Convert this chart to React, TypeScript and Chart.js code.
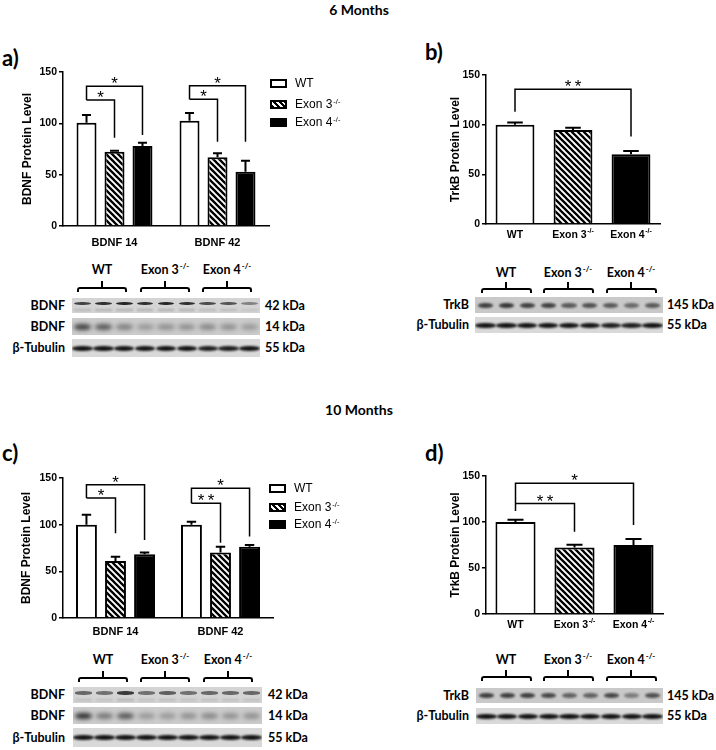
import React, { useEffect, useRef } from 'react';
import { Chart, registerables } from 'chart.js';
Chart.register(...registerables);

// ---------------- data ----------------
const bdnfCategories = ['BDNF 14', 'BDNF 42'];
const trkbCategories = ['WT', 'Exon 3', 'Exon 4'];
const trkbSup = ['', '-/-', '-/-'];
const legendNames = ['WT', 'Exon 3', 'Exon 4'];
const legendSup = ['', '-/-', '-/-'];
const yTickValues = [0, 50, 100, 150];

// 6 months, BDNF (panel a)
const a6WT = [100.5, 102.5];
const a6WTErr = [7.5, 7.5];
const a6Ex3 = [72.3, 66.9];
const a6Ex3Err = [1.0, 3.9];
const a6Ex4 = [77.9, 52.9];
const a6Ex4Err = [3.1, 10.7];

// 6 months, TrkB (panel b)
const b6Values = [100, 94.6, 70.1];
const b6Err = [2.2, 2.3, 3.4];

// 10 months, BDNF (panel c)
const c10WT = [100, 100];
const c10WTErr = [10.5, 3.0];
const c10Ex3 = [61, 70.3];
const c10Ex3Err = [4.7, 6.1];
const c10Ex4 = [68.2, 76.4];
const c10Ex4Err = [2.1, 1.8];

// 10 months, TrkB (panel d)
const d10Values = [100, 72.3, 74.9];
const d10Err = [2.5, 3.0, 6.5];

// significance brackets: [dataset, index] from -> to, level / start / end values, label
type Br = { from: [number, number]; to: [number, number]; level: number; start: number; end: number; label: string };
const a6Brackets: Br[] = [
  { from: [0, 0], to: [1, 0], level: 122.7, start: 122.7, end: 86, label: '*' },
  { from: [0, 0], to: [2, 0], level: 136, start: 122.7, end: 88.6, label: '*' },
  { from: [0, 1], to: [1, 1], level: 123.4, start: 123.4, end: 82, label: '*' },
  { from: [0, 1], to: [2, 1], level: 136.6, start: 123.4, end: 82, label: '*' },
];
const b6Brackets: Br[] = [
  { from: [0, 0], to: [0, 2], level: 135.6, start: 113, end: 88, label: '* *' },
];
const c10Brackets: Br[] = [
  { from: [0, 0], to: [1, 0], level: 128.5, start: 128.5, end: 90.8, label: '*' },
  { from: [0, 0], to: [2, 0], level: 142.8, start: 128.5, end: 83.6, label: '*' },
  { from: [0, 1], to: [1, 1], level: 123, start: 123, end: 80.7, label: '* *' },
  { from: [0, 1], to: [2, 1], level: 139, start: 123, end: 87.2, label: '*' },
];
const d10Brackets: Br[] = [
  { from: [0, 0], to: [0, 1], level: 120, start: 120, end: 89.5, label: '* *' },
  { from: [0, 0], to: [0, 2], level: 142, start: 112, end: 96.8, label: '*' },
];

// blot lane intensities (picture only)
const a42Lanes = [0.8, 0.9, 0.95, 0.9, 0.95, 0.9, 0.75, 0.7, 0.45];
const a14Lanes = [0.85, 0.7, 0.45, 0.3, 0.35, 0.35, 0.4, 0.35, 0.3];
const aTubLanes = [0.95, 0.95, 0.95, 0.95, 0.95, 0.95, 0.9, 0.9, 0.95];
const bTrkLanes = [0.8, 0.85, 0.8, 0.8, 0.65, 0.7, 0.65, 0.55, 0.65];
const bTubLanes = [0.95, 0.95, 0.95, 0.95, 0.95, 0.95, 0.9, 0.9, 0.95];
const c42Lanes = [0.6, 0.55, 0.85, 0.55, 0.65, 0.55, 0.6, 0.6, 0.6];
const c14Lanes = [0.95, 0.5, 0.7, 0.3, 0.3, 0.35, 0.4, 0.35, 0.35];
const cTubLanes = [0.95, 0.95, 0.95, 0.95, 0.95, 0.95, 0.95, 0.95, 0.95];
const dTrkLanes = [0.8, 0.8, 0.8, 0.75, 0.6, 0.6, 0.75, 0.45, 0.7];
const dTubLanes = [0.95, 0.95, 0.95, 0.95, 0.95, 0.95, 0.95, 0.95, 0.95];

// ---------------- chart helpers ----------------
const FONT = "'Liberation Sans', Arial, Helvetica, sans-serif";
const LABEL_FONT = "Lato, 'Open Sans', sans-serif";

function hatchPattern(): CanvasPattern | string {
  const s = 6;
  const c = document.createElement('canvas');
  c.width = s;
  c.height = s;
  const g = c.getContext('2d');
  if (!g) return '#888';
  g.fillStyle = '#fff';
  g.fillRect(0, 0, s, s);
  g.strokeStyle = '#000';
  g.lineWidth = 2.3;
  g.beginPath();
  g.moveTo(-1, -1);
  g.lineTo(s + 1, s + 1);
  g.moveTo(-1, s - 1);
  g.lineTo(1, s + 1);
  g.moveTo(s - 1, -1);
  g.lineTo(s + 1, 1);
  g.stroke();
  return g.createPattern(c, 'repeat') || '#888';
}

type Spec = {
  labels: string[];
  sup: string[];
  grouped: boolean;
  values: number[][];
  errs: number[][];
  brackets: Br[];
  yTitle: string;
  w: number;
  h: number;
  yW: number;
  plotTop: number;
  plotRight: number;
  plotBottom: number;
  titlePad: number;
  catPct: number;
  barPct: number;
  xLabelOffset: number;
  xLabelSize: number;
  capFrac: number;
};

function buildChart(canvas: HTMLCanvasElement, spec: Spec) {
  const hatch = hatchPattern();
  const fills: any[] = ['#ffffff', hatch, '#000000'];
  let datasets: any[];
  if (spec.grouped) {
    datasets = spec.values.map((v, i) => ({
      label: legendNames[i],
      data: v,
      backgroundColor: fills[i],
      borderColor: '#000',
      borderWidth: 2,
      borderSkipped: 'bottom',
      categoryPercentage: spec.catPct,
      barPercentage: spec.barPct,
    }));
  } else {
    datasets = [
      {
        label: 'TrkB',
        data: spec.values[0],
        backgroundColor: fills,
        borderColor: '#000',
        borderWidth: 2,
        borderSkipped: 'bottom',
        categoryPercentage: spec.catPct,
        barPercentage: spec.barPct,
      },
    ];
  }

  const annot = {
    id: 'annot',
    afterDatasetsDraw(chart: any) {
      const ctx: CanvasRenderingContext2D = chart.ctx;
      const ys = chart.scales.y;
      ctx.save();
      ctx.strokeStyle = '#000';
      ctx.fillStyle = '#000';
      // error bars (upper SEM)
      ctx.lineWidth = 2;
      spec.errs.forEach((errArr, di) => {
        const meta = chart.getDatasetMeta(di);
        meta.data.forEach((el: any, i: number) => {
          const v = chart.data.datasets[di].data[i];
          const top = ys.getPixelForValue(v);
          const t2 = ys.getPixelForValue(v + errArr[i]);
          const half = (el.width * spec.capFrac) / 2;
          ctx.beginPath();
          ctx.moveTo(el.x, top);
          ctx.lineTo(el.x, t2);
          ctx.moveTo(el.x - half, t2);
          ctx.lineTo(el.x + half, t2);
          ctx.stroke();
        });
      });
      // significance brackets
      ctx.lineWidth = 1.5;
      ctx.font = `17px ${FONT}`;
      ctx.textAlign = 'center';
      ctx.textBaseline = 'alphabetic';
      spec.brackets.forEach((b) => {
        const x1 = chart.getDatasetMeta(b.from[0]).data[b.from[1]].x;
        const x2 = chart.getDatasetMeta(b.to[0]).data[b.to[1]].x;
        const yl = ys.getPixelForValue(b.level);
        const yst = ys.getPixelForValue(b.start);
        const ye = ys.getPixelForValue(b.end);
        ctx.beginPath();
        ctx.moveTo(x1, yst);
        ctx.lineTo(x1, yl);
        ctx.lineTo(x2, yl);
        ctx.lineTo(x2, ye);
        ctx.stroke();
        ctx.fillText(b.label.replace('* *', '*\u2009*'), (x1 + x2) / 2, yl + 3);
      });
      // x tick labels with superscripts
      const xs = chart.scales.x;
      const yLab = chart.chartArea.bottom + spec.xLabelOffset;
      ctx.textBaseline = 'middle';
      ctx.textAlign = 'left';
      spec.labels.forEach((lab, i) => {
        const cx = xs.getPixelForValue(i);
        const mainFont = `bold ${spec.xLabelSize}px ${FONT}`;
        const supFont = `bold ${Math.round(spec.xLabelSize * 0.65)}px ${FONT}`;
        ctx.font = mainFont;
        const w1 = ctx.measureText(lab).width;
        ctx.font = supFont;
        const sup = spec.sup[i] || '';
        const w2 = sup ? ctx.measureText(sup).width + 0.5 : 0;
        const sx = cx - (w1 + w2) / 2;
        ctx.font = mainFont;
        ctx.fillText(lab, sx, yLab);
        if (sup) {
          ctx.font = supFont;
          ctx.fillText(sup, sx + w1 + 0.5, yLab - spec.xLabelSize * 0.4);
        }
      });
      ctx.restore();
    },
  };

  return new Chart(canvas, {
    type: 'bar',
    data: { labels: spec.labels, datasets },
    plugins: [annot],
    options: {
      responsive: false,
      animation: false,
      devicePixelRatio: 1,
      layout: {
        padding: { left: 0, top: spec.plotTop, right: spec.w - spec.plotRight, bottom: 0 },
      },
      plugins: { legend: { display: false }, tooltip: { enabled: false }, title: { display: false } },
      scales: {
        x: {
          type: 'category',
          offset: true,
          grid: { display: false },
          border: { display: true, color: '#000', width: 1.5 },
          ticks: { display: false },
          afterFit: (s: any) => {
            s.height = spec.h - spec.plotBottom;
          },
        },
        y: {
          min: 0,
          max: 150,
          afterBuildTicks: (s: any) => {
            s.ticks = yTickValues.map((v) => ({ value: v }));
          },
          ticks: { font: { family: FONT, size: 10.5, weight: 'bold' }, color: '#000', padding: 2 },
          grid: { drawOnChartArea: false, drawTicks: true, tickLength: 4, color: '#000', lineWidth: 1.5 },
          border: { display: true, color: '#000', width: 1.5 },
          title: {
            display: true,
            text: spec.yTitle,
            color: '#000',
            font: { family: FONT, size: 12, weight: 'bold' },
            padding: { top: spec.titlePad, bottom: 0 },
          },
          afterFit: (s: any) => {
            s.width = spec.yW;
          },
        },
      },
    } as any,
  });
}

function BarPanel({ left, top, spec }: { left: number; top: number; spec: Spec }) {
  const ref = useRef<HTMLCanvasElement | null>(null);
  useEffect(() => {
    if (!ref.current) return;
    const ch = buildChart(ref.current, spec);
    return () => ch.destroy();
  }, []);
  return (
    <canvas
      ref={ref}
      width={spec.w}
      height={spec.h}
      style={{ position: 'absolute', left, top, width: spec.w, height: spec.h }}
    />
  );
}

// ---------------- html helpers ----------------
function Sup({ t }: { t: string }) {
  if (!t) return null;
  return <span style={{ fontSize: '0.62em', position: 'relative', top: '-0.6em', marginLeft: 1 }}>{t}</span>;
}

function CText({ cx, cy, size, bold = true, family = LABEL_FONT, children }: any) {
  return (
    <div
      style={{
        position: 'absolute',
        left: cx,
        top: cy,
        transform: 'translate(-50%, -50%)',
        whiteSpace: 'nowrap',
        fontFamily: family,
        fontWeight: bold ? 700 : 400,
        fontSize: size,
        lineHeight: 1,
        color: '#000',
      }}
    >
      {children}
    </div>
  );
}

function LText({ x, cy, size, bold = true, family = LABEL_FONT, children }: any) {
  return (
    <div
      style={{
        position: 'absolute',
        left: x,
        top: cy,
        transform: 'translateY(-50%)',
        whiteSpace: 'nowrap',
        fontFamily: family,
        fontWeight: bold ? 700 : 400,
        fontSize: size,
        lineHeight: 1,
        color: '#000',
      }}
    >
      {children}
    </div>
  );
}

function RText({ rx, cy, size, children }: any) {
  return (
    <div
      style={{
        position: 'absolute',
        right: 716 - rx,
        top: cy,
        transform: 'translateY(-50%)',
        whiteSpace: 'nowrap',
        fontFamily: LABEL_FONT,
        fontWeight: 700,
        fontSize: size,
        lineHeight: 1,
        color: '#000',
        textAlign: 'right',
      }}
    >
      {children}
    </div>
  );
}

function GroupBracket({ l, r, y }: { l: number; r: number; y: number }) {
  return (
    <>
      <div
        style={{
          position: 'absolute',
          left: l,
          top: y,
          width: r - l,
          height: 5,
          boxSizing: 'border-box',
          borderTop: '2px solid #000',
          borderLeft: '2px solid #000',
          borderRight: '2px solid #000',
          borderTopLeftRadius: 3,
          borderTopRightRadius: 3,
        }}
      />
      <div style={{ position: 'absolute', left: (l + r) / 2 - 1, top: y - 6, width: 2, height: 7, background: '#000' }} />
    </>
  );
}

type BandSpec = { bg: string; y: number; h: number; w: number; blur: number; rgb: string; second?: number };
const band42: BandSpec = { bg: '#d4d4d4', y: 0.36, h: 3.5, w: 0.8, blur: 0.6, rgb: '30,30,30', second: 0.22 };
const band14: BandSpec = { bg: '#cbcbcb', y: 0.55, h: 6, w: 0.82, blur: 2, rgb: '35,35,35' };
const bandTub: BandSpec = { bg: '#d9d9d9', y: 0.5, h: 5, w: 0.98, blur: 0.8, rgb: '10,10,10' };
const bandTrk: BandSpec = { bg: '#c9c9c9', y: 0.5, h: 5, w: 0.72, blur: 1, rgb: '30,30,30' };

function Blot({ x, y, w, h, spec, lanes }: { x: number; y: number; w: number; h: number; spec: BandSpec; lanes: number[] }) {
  const lw = w / lanes.length;
  return (
    <div style={{ position: 'absolute', left: x, top: y, width: w, height: h, background: spec.bg, overflow: 'hidden' }}>
      {lanes.map((o, i) => (
        <div
          key={i}
          style={{
            position: 'absolute',
            left: lw * i + (lw * (1 - spec.w)) / 2,
            top: h * spec.y - spec.h / 2,
            width: lw * spec.w,
            height: spec.h,
            background: `rgba(${spec.rgb},${o})`,
            borderRadius: '45%',
            filter: `blur(${spec.blur}px)`,
          }}
        />
      ))}
      {spec.second
        ? lanes.map((o, i) => (
            <div
              key={'s' + i}
              style={{
                position: 'absolute',
                left: lw * i + (lw * (1 - spec.w)) / 2,
                top: h * 0.72,
                width: lw * spec.w,
                height: 2,
                background: `rgba(${spec.rgb},${o * (spec.second as number)})`,
                filter: 'blur(0.8px)',
              }}
            />
          ))
        : null}
    </div>
  );
}

function Legend({ left, ys }: { left: number; ys: number[] }) {
  const boxStyles: any[] = [
    { background: '#fff' },
    { background: 'repeating-linear-gradient(45deg, #000 0 2px, #fff 2px 4px)' },
    { background: '#000' },
  ];
  return (
    <>
      {legendNames.map((n, i) => (
        <React.Fragment key={n}>
          <div
            style={{
              position: 'absolute',
              left,
              top: ys[i] - 4.5,
              width: 17,
              height: 9,
              boxSizing: 'border-box',
              border: '2px solid #000',
              ...boxStyles[i],
            }}
          />
          <LText x={left + 25} cy={ys[i]} size={12} bold={false} family={FONT}>
            {n}
            <Sup t={legendSup[i]} />
          </LText>
        </React.Fragment>
      ))}
    </>
  );
}

function GroupLabels({ centers, cy, bracketY, half }: { centers: number[]; cy: number; bracketY: number; half: number }) {
  return (
    <>
      {legendNames.map((n, i) => (
        <React.Fragment key={n}>
          <CText cx={centers[i]} cy={cy} size={12.5}>
            {n}
            <Sup t={legendSup[i]} />
          </CText>
          <GroupBracket l={centers[i] - half} r={centers[i] + half} y={bracketY} />
        </React.Fragment>
      ))}
    </>
  );
}

// ---------------- specs ----------------
const specA: Spec = {
  labels: bdnfCategories,
  sup: ['', ''],
  grouped: true,
  values: [a6WT, a6Ex3, a6Ex4],
  errs: [a6WTErr, a6Ex3Err, a6Ex4Err],
  brackets: a6Brackets,
  yTitle: 'BDNF Protein Level',
  w: 290,
  h: 200,
  yW: 63,
  plotTop: 12,
  plotRight: 269,
  plotBottom: 166,
  titlePad: 20.8,
  catPct: 0.815,
  barPct: 0.714,
  xLabelOffset: 17,
  xLabelSize: 11,
  capFrac: 0.45,
};
const specB: Spec = {
  labels: trkbCategories,
  sup: trkbSup,
  grouped: false,
  values: [b6Values],
  errs: [b6Err],
  brackets: b6Brackets,
  yTitle: 'TrkB Protein Level',
  w: 300,
  h: 200,
  yW: 106,
  plotTop: 15,
  plotRight: 280,
  plotBottom: 164,
  titlePad: 68.8,
  catPct: 1,
  barPct: 0.67,
  xLabelOffset: 11,
  xLabelSize: 10.5,
  capFrac: 0.4,
};
const specC: Spec = {
  labels: bdnfCategories,
  sup: ['', ''],
  grouped: true,
  values: [c10WT, c10Ex3, c10Ex4],
  errs: [c10WTErr, c10Ex3Err, c10Ex4Err],
  brackets: c10Brackets,
  yTitle: 'BDNF Protein Level',
  w: 290,
  h: 200,
  yW: 63,
  plotTop: 28,
  plotRight: 273,
  plotBottom: 168,
  titlePad: 19.8,
  catPct: 0.83,
  barPct: 0.72,
  xLabelOffset: 14,
  xLabelSize: 11,
  capFrac: 0.45,
};
const specD: Spec = {
  labels: trkbCategories,
  sup: trkbSup,
  grouped: false,
  values: [d10Values],
  errs: [d10Err],
  brackets: d10Brackets,
  yTitle: 'TrkB Protein Level',
  w: 300,
  h: 200,
  yW: 106,
  plotTop: 26,
  plotRight: 283,
  plotBottom: 164,
  titlePad: 68.8,
  catPct: 1,
  barPct: 0.68,
  xLabelOffset: 11,
  xLabelSize: 10.5,
  capFrac: 0.4,
};

export default function App() {
  return (
    <div style={{ position: 'absolute', left: 0, top: 0, width: 716, height: 750, background: '#fff', overflow: 'hidden' }}>
      {/* titles */}
      <CText cx={359} cy={10} size={14}>6 Months</CText>
      <CText cx={359} cy={410} size={14}>10 Months</CText>
      <LText x={2} cy={58} size={22}>a)</LText>
      <LText x={425} cy={52} size={22}>b)</LText>
      <LText x={2} cy={453} size={22}>c)</LText>
      <LText x={425} cy={453} size={22}>d)</LText>

      {/* charts */}
      <BarPanel left={0} top={60} spec={specA} />
      <BarPanel left={380} top={60} spec={specB} />
      <BarPanel left={0} top={450} spec={specC} />
      <BarPanel left={380} top={450} spec={specD} />

      <Legend left={270} ys={[83, 104, 122]} />
      <Legend left={269} ys={[488, 507, 524]} />

      {/* blot a */}
      <GroupLabels centers={[102, 165, 227]} cy={270} bracketY={287} half={25} />
      <Blot x={72} y={298} w={188} h={15} spec={band42} lanes={a42Lanes} />
      <Blot x={72} y={318} w={188} h={17} spec={band14} lanes={a14Lanes} />
      <Blot x={72} y={339} w={188} h={18} spec={bandTub} lanes={aTubLanes} />
      <RText rx={65} cy={305.5} size={12.5}>BDNF</RText>
      <RText rx={65} cy={326.5} size={12.5}>BDNF</RText>
      <RText rx={65} cy={348} size={12.5}>β-Tubulin</RText>
      <LText x={265} cy={305.5} size={12.5}>42 kDa</LText>
      <LText x={265} cy={326.5} size={12.5}>14 kDa</LText>
      <LText x={265} cy={348} size={12.5}>55 kDa</LText>

      {/* blot b */}
      <GroupLabels centers={[506, 568, 631]} cy={273} bracketY={288} half={25.5} />
      <Blot x={475} y={297} w={188} h={16} spec={bandTrk} lanes={bTrkLanes} />
      <Blot x={475} y={317} w={188} h={16} spec={bandTub} lanes={bTubLanes} />
      <RText rx={469} cy={305} size={12.5}>TrkB</RText>
      <RText rx={469} cy={325} size={12.5}>β-Tubulin</RText>
      <LText x={667} cy={305} size={12.5}>145 kDa</LText>
      <LText x={667} cy={325} size={12.5}>55 kDa</LText>

      {/* blot c */}
      <GroupLabels centers={[103, 165, 228]} cy={660} bracketY={677} half={25} />
      <Blot x={73} y={687} w={189} h={16} spec={band42} lanes={c42Lanes} />
      <Blot x={73} y={707} w={189} h={17} spec={band14} lanes={c14Lanes} />
      <Blot x={73} y={728} w={189} h={19} spec={bandTub} lanes={cTubLanes} />
      <RText rx={65} cy={695} size={12.5}>BDNF</RText>
      <RText rx={65} cy={715.5} size={12.5}>BDNF</RText>
      <RText rx={65} cy={737.5} size={12.5}>β-Tubulin</RText>
      <LText x={268} cy={695} size={12.5}>42 kDa</LText>
      <LText x={268} cy={715.5} size={12.5}>14 kDa</LText>
      <LText x={268} cy={737.5} size={12.5}>55 kDa</LText>

      {/* blot d */}
      <GroupLabels centers={[506, 568, 631]} cy={660} bracketY={676} half={25.5} />
      <Blot x={476} y={688} w={187} h={15} spec={bandTrk} lanes={dTrkLanes} />
      <Blot x={476} y={708} w={187} h={16} spec={bandTub} lanes={dTubLanes} />
      <RText rx={469} cy={695.5} size={12.5}>TrkB</RText>
      <RText rx={469} cy={716} size={12.5}>β-Tubulin</RText>
      <LText x={667} cy={695.5} size={12.5}>145 kDa</LText>
      <LText x={667} cy={716} size={12.5}>55 kDa</LText>
    </div>
  );
}
